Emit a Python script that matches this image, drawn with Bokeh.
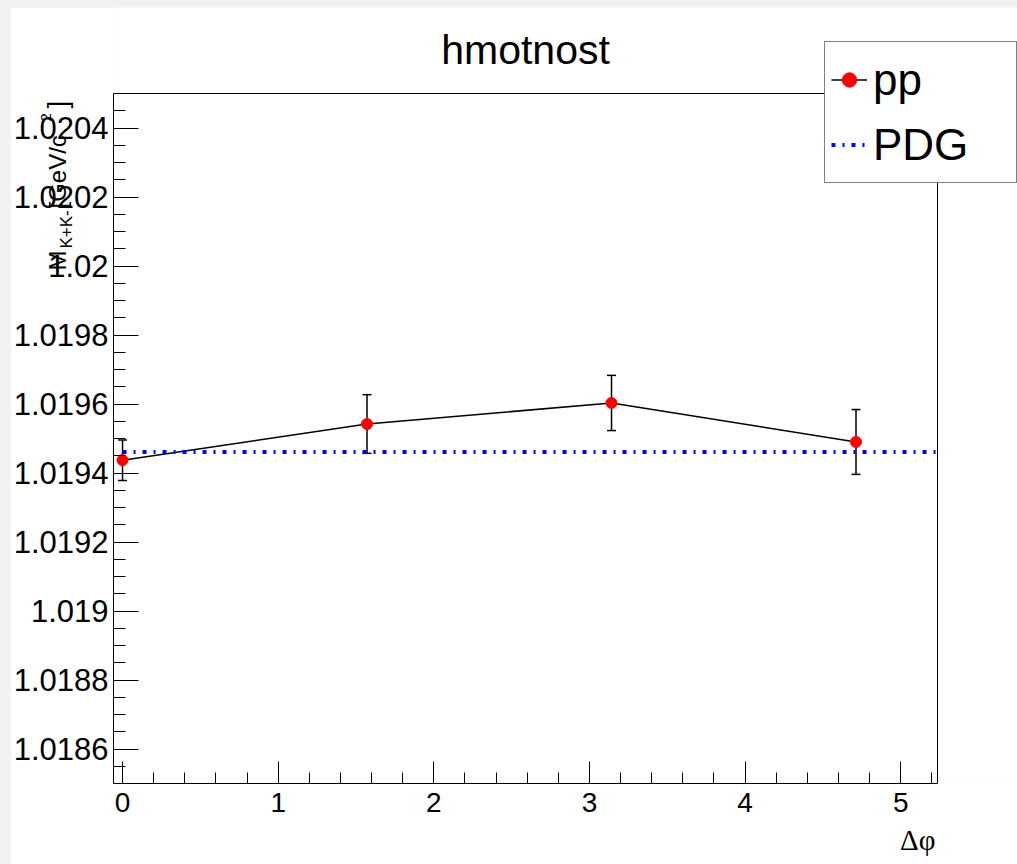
import math
from bokeh.plotting import figure
from bokeh.layouts import column
from bokeh.models import (Range1d, FixedTicker, CustomJSTickFormatter, Label, Legend,
                          LegendItem, Whisker, TeeHead, ColumnDataSource)
from bokeh.embed import file_html
from bokeh.resources import INLINE

# ---------------- data ----------------
title_text = "hmotnost"
x_vals = [0.0, 1.5708, 3.1416, 4.7124]          # delta phi
y_vals = [1.019437, 1.019542, 1.019603, 1.019490]  # mass
y_errs = [0.000059, 0.000085, 0.000080, 0.000094]
pdg_mass = 1.019461
series_label = "pp"
pdg_label = "PDG"
x_title = "Δφ"

x_ticks = [0, 1, 2, 3, 4, 5]
y_ticks = [1.0186, 1.0188, 1.019, 1.0192, 1.0194, 1.0196, 1.0198, 1.02, 1.0202, 1.0204]
y_tick_labels = ["1.0186", "1.0188", "1.019", "1.0192", "1.0194", "1.0196",
                 "1.0198", "1.02", "1.0202", "1.0204"]

# axis limits of the drawn frame
X0, XR = -0.058, 5.236
Y0, YT = 1.0185, 1.0205

PAGE_W, PAGE_H = 1017, 864
OFFX, OFFY = 11, 7                        # white canvas starts here inside the grey page
FX0, FX1, FY0, FY1 = 113, 937, 93, 783    # drawn frame in page pixels
LB = 400                                  # generous left border (partly hidden off-page)
SHIFT = LB - FX0                          # canvas x - page x
W = LB + (PAGE_W - FX0)
H = PAGE_H - OFFY
sx = (XR - X0) / (FX1 - FX0)
sy = (YT - Y0) / (FY1 - FY0)
X1 = XR + (PAGE_W - FX1) * sx      # bokeh frame extends to the right page edge
Y1 = YT + (FY0 - OFFY) * sy        # and to the top of the canvas


def dx(px):
    return X0 + (px - FX0) * sx


def dy(py):
    return Y0 + (FY1 - py) * sy


FONT = "Liberation Sans"

p = figure(width=W, height=H, x_range=Range1d(X0, X1), y_range=Range1d(Y0, Y1),
           output_backend="svg", toolbar_location=None,
           min_border_left=LB, min_border_right=0, min_border_top=0,
           min_border_bottom=PAGE_H - FY1)
p.margin = (OFFY, 0, 0, 0)
p.styles = {"clip-path": f"inset(0px 0px 0px {SHIFT + OFFX}px)"}
p.background_fill_color = "white"
p.border_fill_color = "white"
p.outline_line_color = None
p.xgrid.visible = False
p.ygrid.visible = False
p.title.text = ""

# axes
p.xaxis.ticker = FixedTicker(ticks=x_ticks, minor_ticks=[round(i * 0.2, 1) for i in range(27)])
p.yaxis.ticker = FixedTicker(ticks=y_ticks,
                             minor_ticks=[round(Y0 + i * 0.00005, 5) for i in range(41)])
p.yaxis.formatter = CustomJSTickFormatter(args=dict(labels=y_tick_labels, vals=y_ticks), code="""
    for (let i = 0; i < vals.length; i++) { if (Math.abs(vals[i] - tick) < 1e-7) return labels[i]; }
    return '';
""")
p.xaxis.bounds = (X0, XR)
p.yaxis.bounds = (Y0, YT)
for ax in (p.xaxis[0], p.yaxis[0]):
    ax.axis_line_color = "black"
    ax.axis_line_width = 1
    ax.major_tick_line_color = "black"
    ax.minor_tick_line_color = "black"
    ax.major_tick_line_width = 1
    ax.minor_tick_line_width = 1
    ax.major_tick_out = 0
    ax.minor_tick_out = 0
    ax.major_label_text_font = FONT
    ax.major_label_text_color = "black"
p.xaxis.major_tick_in = 22
p.xaxis.minor_tick_in = 11
p.yaxis.major_tick_in = 25
p.yaxis.minor_tick_in = 12
p.xaxis.major_label_text_font_size = "28px"
p.yaxis.major_label_text_font_size = "31px"
p.xaxis.major_label_standoff = 9
p.yaxis.major_label_standoff = 5

# top and right edges of the drawn frame
p.line([X0, XR, XR], [YT, YT, Y0], line_color="black", line_width=1)

# data
src = ColumnDataSource(dict(x=x_vals, y=y_vals,
                            upper=[v + e for v, e in zip(y_vals, y_errs)],
                            lower=[v - e for v, e in zip(y_vals, y_errs)]))
line_r = p.line("x", "y", source=src, line_color="black", line_width=1.5)
wh = Whisker(source=src, base="x", upper="upper", lower="lower", line_color="black",
             line_width=1.5,
             upper_head=TeeHead(size=9, line_color="black", line_width=1.5),
             lower_head=TeeHead(size=9, line_color="black", line_width=1.5))
p.add_layout(wh)
pts_r = p.scatter("x", "y", source=src, size=11, fill_color="red", line_color="red")
pdg_r = p.line([0.0, XR], [pdg_mass, pdg_mass], line_color="#0000ff", line_width=4,
               line_dash="4 7 2 7")

legend = Legend(items=[LegendItem(label=series_label, renderers=[line_r, pts_r]),
                       LegendItem(label=pdg_label, renderers=[pdg_r])],
                location=(824 - FX0, FY1 - 183), margin=0, padding=6, spacing=2,
                glyph_width=36, glyph_height=63, label_height=63, label_width=137,
                label_standoff=6, label_text_font=FONT, label_text_font_size="44px",
                label_text_baseline="middle", label_text_color="black",
                border_line_color="black", border_line_width=1.2,
                background_fill_color="white", background_fill_alpha=1)
p.add_layout(legend, "center")

# title inside the (extended) frame
p.add_layout(Label(x=dx(525), y=dy(49), text=title_text, text_align="center",
                   text_baseline="alphabetic", text_font=FONT, text_font_size="41px",
                   text_color="black"))

# x axis title (below panel)
p.add_layout(Label(x=dx(935), y=dy(839), text=x_title, text_align="right",
                   text_baseline="alphabetic", text_font="Liberation Serif",
                   text_font_size="29px", text_color="black"), "below")

# y axis title pieces (left panel, rotated)
ang = math.pi / 2
ytitle = [("M", 57, 270, "24px"), ("K+K-", 66, 248, "17px"), ("[GeV/c", 57, 208, "24px"),
          ("2", 45, 121, "15px"), ("]", 57, 108, "28px")]
for txt, px, py, fs in ytitle:
    p.add_layout(Label(x=dx(px), y=dy(py), text=txt, angle=ang, text_align="left",
                       text_baseline="alphabetic", text_font=FONT, text_font_size=fs,
                       text_color="black"), "left")

root = column(p, width=W, height=PAGE_H, margin=(0, 0, 0, -SHIFT),
              styles={"background-color": "#f2f2f2"})
html = file_html(root, INLINE)
open("out.html", "w").write(html)
